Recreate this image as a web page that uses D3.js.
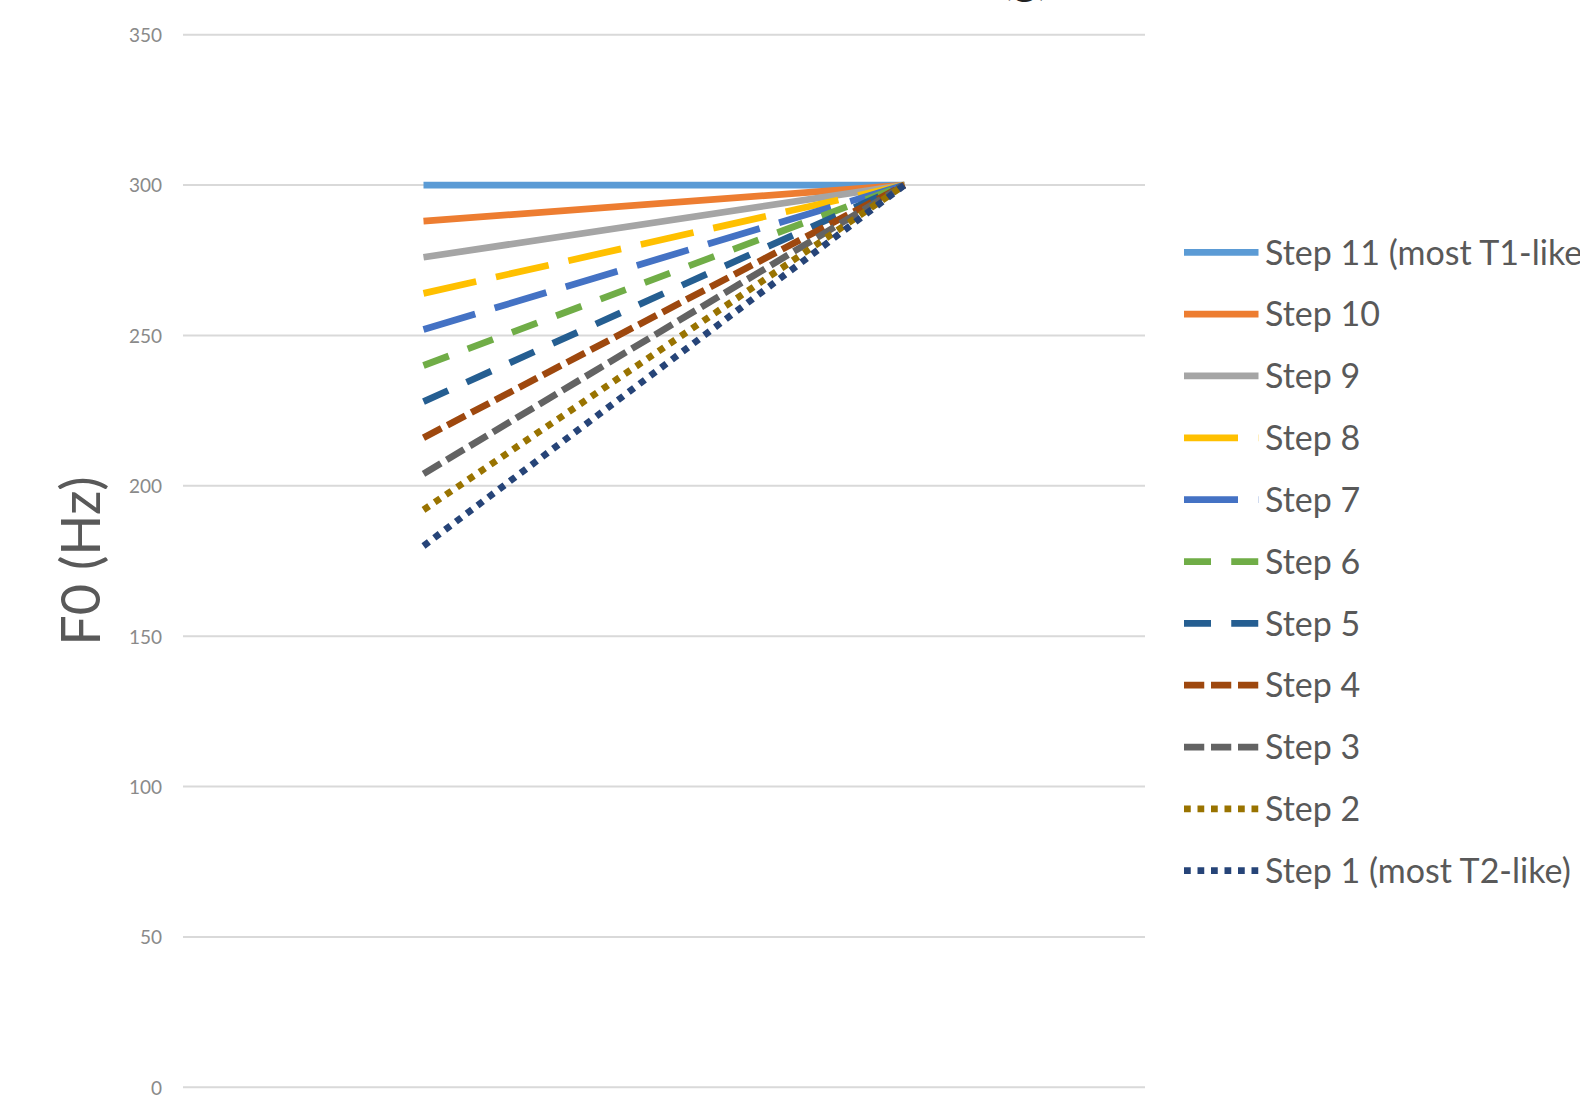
<!DOCTYPE html>
<html>
<head>
<meta charset="utf-8">
<script src="https://cdn.jsdelivr.net/npm/d3@7"></script>
<style>
  html, body { margin: 0; padding: 0; background: #fff; }
  svg { display: block; }
</style>
</head>
<body>
<svg id="chart" width="1580" height="1113"></svg>
<script>
// ---- data ----
const categories = ["Onset", "Offset"];
const seriesNames = [
  "Step 11 (most T1-like)", "Step 10", "Step 9", "Step 8", "Step 7", "Step 6",
  "Step 5", "Step 4", "Step 3", "Step 2", "Step 1 (most T2-like)"
];
const onsetValues  = [300, 288, 276, 264, 252, 240, 228, 216, 204, 192, 180];
const offsetValues = [300, 300, 300, 300, 300, 300, 300, 300, 300, 300, 300];
const yTicks = [0, 50, 100, 150, 200, 250, 300, 350];
const titleText = "Stimulus F0 contours (g)";
const yLabel = "F0 (Hz)";

// ---- styles ----
const colors = ["#5B9BD5", "#ED7D31", "#A5A5A5", "#FFC000", "#4472C4", "#70AD47",
                "#255E91", "#9E480E", "#636363", "#997300", "#264478"];
const lw = 6.75;
const dashes = [null, null, null,
  `${8*lw},${3*lw}`, `${8*lw},${3*lw}`,
  `${4*lw},${3*lw}`, `${4*lw},${3*lw}`,
  `${3*lw},${lw}`, `${3*lw},${lw}`,
  `${lw},${lw}`, `${lw},${lw}`];

const font = "Lato, 'Open Sans', sans-serif";
const svg = d3.select("#chart");

const plot = { left: 183, right: 1145, top: 34.7, bottom: 1087.3 };

const x = d3.scaleBand().domain(categories).range([plot.left, plot.right]);
const y = d3.scaleLinear().domain([0, 350]).range([plot.bottom, plot.top]);
const xc = c => x(c) + x.bandwidth() / 2;

// title (mostly above the visible area)
svg.append("text")
  .attr("x", 1050).attr("y", -6)
  .attr("text-anchor", "end")
  .attr("font-family", font).attr("font-size", 47)
  .attr("fill", "#222")
  .text(titleText);

// gridlines
svg.append("g").selectAll("line").data(yTicks).join("line")
  .attr("x1", plot.left).attr("x2", plot.right)
  .attr("y1", d => y(d)).attr("y2", d => y(d))
  .attr("stroke", "#D9D9D9").attr("stroke-width", 2);

// y tick labels via axis
const yAxis = d3.axisLeft(y).tickValues(yTicks).tickSize(0).tickPadding(0);
const gy = svg.append("g").attr("transform", `translate(162,0)`).call(yAxis);
gy.select(".domain").remove();
gy.selectAll("text")
  .attr("font-family", font).attr("font-size", 19)
  .attr("fill", "#8A8A8A").attr("dy", "0.36em");

// y axis label
svg.append("text")
  .attr("transform", "translate(100,561) rotate(-90)")
  .attr("text-anchor", "middle")
  .attr("font-family", font).attr("font-size", 54)
  .attr("fill", "#595959")
  .text(yLabel);

// lines
const line = d3.line().x(d => xc(d.c)).y(d => y(d.v));
const series = seriesNames.map((name, i) => ({
  name, i,
  pts: [{ c: categories[0], v: onsetValues[i] }, { c: categories[1], v: offsetValues[i] }]
}));
svg.append("g").selectAll("path").data(series).join("path")
  .attr("d", d => line(d.pts))
  .attr("fill", "none")
  .attr("stroke", d => colors[d.i])
  .attr("stroke-width", lw)
  .attr("stroke-linecap", "butt")
  .attr("stroke-dasharray", d => dashes[d.i]);

// legend
const lg = svg.append("g");
const rowY = i => 252.3 + i * 61.84;
const items = lg.selectAll("g").data(series).join("g")
  .attr("transform", d => `translate(0,${rowY(d.i)})`);
items.append("line")
  .attr("x1", 1184).attr("x2", 1258.5).attr("y1", 0).attr("y2", 0)
  .attr("stroke", d => colors[d.i])
  .attr("stroke-width", lw)
  .attr("stroke-dasharray", d => dashes[d.i]);
items.append("text")
  .attr("x", 1265).attr("y", 12.2)
  .attr("font-family", font).attr("font-size", 34)
  .attr("fill", "#595959")
  .text(d => d.name);
</script>
</body>
</html>
